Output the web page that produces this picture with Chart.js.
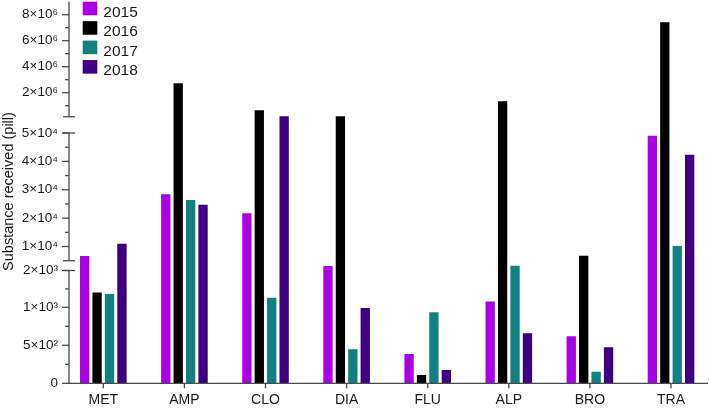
<!DOCTYPE html>
<html>
<head>
<meta charset="utf-8">
<script src="https://cdn.jsdelivr.net/npm/chart.js@4.4.1/dist/chart.umd.min.js"></script>
<style>
html, body { margin: 0; padding: 0; background: #ffffff; }
canvas { display: block; }
</style>
</head>
<body>
<canvas id="c" width="709" height="408"></canvas>
<script>
// ---- data ----
const categories = ['MET', 'AMP', 'CLO', 'DIA', 'FLU', 'ALP', 'BRO', 'TRA'];
const seriesNames = ['2015', '2016', '2017', '2018'];
const values2015 = [6700, 28400, 21700, 3380, 385, 1160, 620, 49000];
const values2016 = [1400, 2720000, 650000, 185000, 109, 1340000, 6760, 7420000];
const values2017 = [1360, 26400, 1260, 447, 934, 3470, 153, 10200];
const values2018 = [11000, 24700, 185000, 990, 175, 658, 474, 42300];
const yMajorTicks = [0, 500, 1000, 2000, 10000, 20000, 30000, 40000, 50000, 2000000, 4000000, 6000000, 8000000];
const yTickLabels = ['0', '5×10²', '1×10³', '2×10³', '1×10⁴', '2×10⁴', '3×10⁴', '4×10⁴', '5×10⁴', '2×10⁶', '4×10⁶', '6×10⁶', '8×10⁶'];
const yMinorTicks = [250, 750, 1500, 15000, 25000, 35000, 45000, 1000000, 3000000, 5000000, 7000000];
const ySegments = [[0, 2000], [5000, 50000], [150000, 9000000]];
const yTitle = 'Substance received (pill)';

// ---- broken (piecewise) value axis: value -> fraction of axis height ----
const Y_MAP = [[0, 0], [1000, 0.19916], [2000, 0.2956], [5000, 0.32128], [50000, 0.65592], [150000, 0.69851], [9000000, 1]];
function valueToFrac(v) {
  if (v <= Y_MAP[0][0]) return 0;
  for (let i = 1; i < Y_MAP.length; i++) {
    const [v0, f0] = Y_MAP[i - 1], [v1, f1] = Y_MAP[i];
    if (v <= v1) return f0 + (v - v0) / (v1 - v0) * (f1 - f0);
  }
  const [v0, f0] = Y_MAP[Y_MAP.length - 2], [v1, f1] = Y_MAP[Y_MAP.length - 1];
  return f0 + (v - v0) / (v1 - v0) * (f1 - f0);
}
function fracToValue(f) {
  if (f <= 0) return 0;
  for (let i = 1; i < Y_MAP.length; i++) {
    const [v0, f0] = Y_MAP[i - 1], [v1, f1] = Y_MAP[i];
    if (f <= f1) return v0 + (f - f0) / (f1 - f0) * (v1 - v0);
  }
  return Y_MAP[Y_MAP.length - 1][0];
}
class BrokenScale extends Chart.LinearScale {
  buildTicks() { return yMajorTicks.map(v => ({ value: v })); }
  getPixelForValue(v) { return this.bottom - valueToFrac(v) * (this.bottom - this.top); }
  getValueForPixel(p) { return fracToValue((this.bottom - p) / (this.bottom - this.top)); }
}
BrokenScale.id = 'broken';
BrokenScale.defaults = Chart.LinearScale.defaults;
Chart.register(BrokenScale);

const FONT = '"Liberation Sans", Arial, Helvetica, sans-serif';
const TEXT = '#1a1a1a';
const AXIS = '#4a4a4a';
const colors = ['#aa00e6', '#000000', '#12807f', '#3e007e'];

const axisPlugin = {
  id: 'brokenAxes',
  afterDatasetsDraw(chart) {
    const ctx = chart.ctx;
    const ys = chart.scales.y, xs = chart.scales.x;
    const ax = chart.chartArea.left;
    const line = (x1, y1, x2, y2) => { ctx.beginPath(); ctx.moveTo(x1, y1); ctx.lineTo(x2, y2); ctx.stroke(); };
    ctx.save();
    ctx.strokeStyle = AXIS;
    ctx.lineWidth = 1.3;
    ySegments.forEach(([lo, hi], i) => {
      const p0 = ys.getPixelForValue(lo), p1 = ys.getPixelForValue(hi);
      line(ax, p0, ax, p1);
      if (i > 0) line(ax - 6, p0, ax + 6, p0);
      if (i < ySegments.length - 1) line(ax - 6, p1, ax + 6, p1);
    });
    yMajorTicks.forEach(v => { const p = ys.getPixelForValue(v); line(ax - 7, p, ax, p); });
    yMinorTicks.forEach(v => { const p = ys.getPixelForValue(v); line(ax - 4, p, ax, p); });
    const y0 = ys.getPixelForValue(0);
    line(ax - 0.65, y0, chart.chartArea.right, y0);
    categories.forEach((c, i) => { const px = xs.getPixelForValue(i); line(px, y0, px, y0 + 5); });

    // y title
    ctx.fillStyle = TEXT;
    ctx.font = '14.5px ' + FONT;
    ctx.save();
    ctx.translate(12.7, 191.5);
    ctx.rotate(-Math.PI / 2);
    ctx.textAlign = 'center';
    ctx.textBaseline = 'alphabetic';
    ctx.fillText(yTitle, 0, 0);
    ctx.restore();

    // legend
    ctx.font = '15.5px ' + FONT;
    ctx.textAlign = 'left';
    ctx.textBaseline = 'alphabetic';
    chart.data.datasets.forEach((ds, i) => {
      const top = 1.7 + i * 19.45;
      ctx.fillStyle = ds.backgroundColor;
      ctx.fillRect(82.7, top, 14.6, 13.6);
      ctx.fillStyle = TEXT;
      ctx.fillText(ds.label, 103.3, top + 15);
    });
    ctx.restore();
  }
};

const seriesValues = [values2015, values2016, values2017, values2018];

new Chart(document.getElementById('c'), {
  type: 'bar',
  data: {
    labels: categories.map((_, i) => i),
    datasets: seriesNames.map((name, i) => ({
      label: name,
      data: seriesValues[i],
      backgroundColor: colors[i],
      borderWidth: 0,
      barPercentage: 0.75,
      categoryPercentage: 0.613
    }))
  },
  options: {
    responsive: false,
    animation: false,
    layout: { padding: { top: 1.7, right: 1, left: 0, bottom: 0 } },
    plugins: { legend: { display: false }, tooltip: { enabled: false } },
    scales: {
      x: {
        type: 'linear',
        min: -0.423,
        max: 7.456,
        offset: false,
        grid: { display: false, drawTicks: false },
        border: { display: false },
        ticks: {
          stepSize: 1,
          includeBounds: false,
          autoSkip: false,
          maxRotation: 0,
          padding: 8.5,
          color: TEXT,
          font: { family: FONT, size: 14 },
          callback: (v) => {
            const i = Math.round(v);
            return Math.abs(v - i) < 1e-6 && categories[i] !== undefined ? categories[i] : '';
          }
        },
        afterFit: (s) => { s.height = 24.7; s.paddingLeft = 0; s.paddingRight = 0; s.paddingTop = 0; s.paddingBottom = 0; }
      },
      y: {
        type: 'broken',
        min: 0,
        max: 9000000,
        grid: { display: false, drawTicks: false },
        border: { display: false },
        ticks: {
          autoSkip: false,
          padding: 11,
          color: TEXT,
          font: { family: FONT, size: 13.5 },
          callback: (v) => {
            const i = yMajorTicks.indexOf(v);
            return i >= 0 ? yTickLabels[i] : '';
          }
        },
        afterFit: (s) => { s.width = 69; s.paddingTop = 0; s.paddingBottom = 0; s.paddingLeft = 0; s.paddingRight = 0; }
      }
    }
  },
  plugins: [axisPlugin]
});
</script>
</body>
</html>
